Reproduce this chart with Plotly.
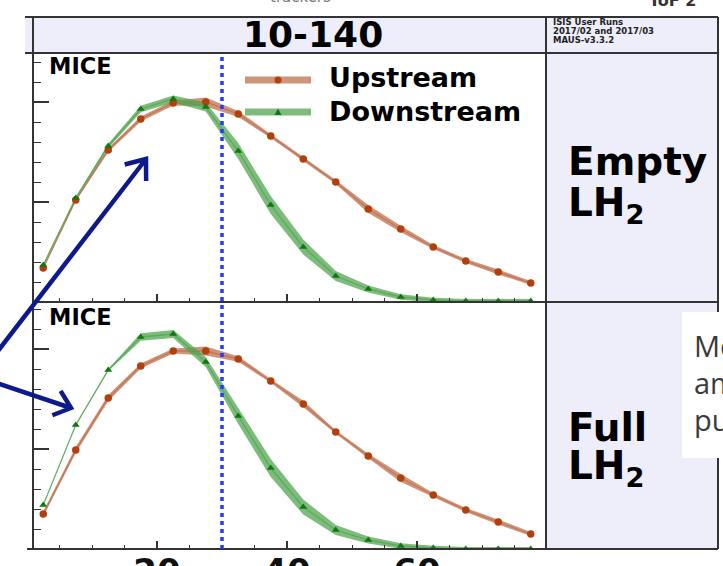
import math
import plotly.graph_objects as go

# ---------------- data ----------------
x_centers = [2.5, 7.5, 12.5, 17.5, 22.5, 27.5, 32.5, 37.5,
             42.5, 47.5, 52.5, 57.5, 62.5, 67.5, 72.5, 77.5]

empty_upstream = [0.034, 0.102, 0.152, 0.183, 0.199, 0.200, 0.188, 0.166,
                  0.143, 0.120, 0.093, 0.073, 0.055, 0.041, 0.030, 0.019]
empty_upstream_err = [0.0010, 0.0012, 0.0020, 0.0025, 0.0025, 0.0045, 0.0030, 0.0020,
                      0.0022, 0.0020, 0.0040, 0.0032, 0.0020, 0.0020, 0.0024, 0.0020]
empty_downstream = [0.037, 0.104, 0.156, 0.193, 0.203, 0.195, 0.151, 0.097,
                    0.055, 0.026, 0.013, 0.005, 0.002, 0.001, 0.001, 0.001]
empty_downstream_err = [0.0010, 0.0012, 0.0022, 0.0032, 0.0035, 0.0045, 0.0080, 0.0090,
                        0.0075, 0.0050, 0.0035, 0.0028, 0.0022, 0.0020, 0.0020, 0.0020]

full_upstream = [0.035, 0.099, 0.151, 0.183, 0.198, 0.198, 0.190, 0.168,
                 0.145, 0.117, 0.093, 0.071, 0.054, 0.039, 0.027, 0.015]
full_upstream_err = [0.0025, 0.0030, 0.0030, 0.0025, 0.0025, 0.0045, 0.0028, 0.0018,
                     0.0032, 0.0018, 0.0022, 0.0040, 0.0020, 0.0020, 0.0026, 0.0020]
full_downstream = [0.044, 0.124, 0.179, 0.212, 0.215, 0.187, 0.133, 0.081,
                   0.042, 0.019, 0.009, 0.003, 0.001, 0.000, 0.000, 0.000]
full_downstream_err = [0.0008, 0.0008, 0.0010, 0.0038, 0.0040, 0.0050, 0.0080, 0.0090,
                       0.0075, 0.0050, 0.0035, 0.0028, 0.0022, 0.0020, 0.0020, 0.0020]

cut_value = 30
x_tick_vals = [20, 40, 60]
x_tick_text = ["20", "40", "60"]
series_names = ["Upstream", "Downstream"]
panel_labels = [["Empty", "LH<sub>2</sub>"], ["Full", "LH<sub>2</sub>"]]
title_text = "10-140"
info_lines = ["ISIS User Runs", "2017/02 and 2017/03", "MAUS-v3.3.2"]
box_lines = ["Me", "am", "pu"]

# ---------------- styling ----------------
W, H = 723, 566
UP_BAND = "rgba(190,110,75,0.74)"
UP_MARK = "#b2400c"
DN_BAND = "rgba(80,165,80,0.74)"
DN_MARK = "#117711"
FRAME = "#333333"
LAV = "#eeeefa"
NAVY = "#0e1a8c"
FAM = "DejaVu Sans, sans-serif"


def PX(x):
    return x / W


def PY(y):
    return 1 - y / H


fig = go.Figure()


def add_band(xs, ys, err, color, xa, ya):
    up = [v + e for v, e in zip(ys, err)]
    lo = [v - e for v, e in zip(ys, err)]
    fig.add_trace(go.Scatter(x=xs + xs[::-1], y=up + lo[::-1], fill="toself",
                             fillcolor=color, line=dict(width=0), mode="lines",
                             hoverinfo="skip", showlegend=False, xaxis=xa, yaxis=ya))
    fig.add_trace(go.Scatter(x=xs, y=ys, mode="lines", line=dict(color=color, width=1.3),
                             showlegend=False, hoverinfo="skip", xaxis=xa, yaxis=ya))


def add_markers(xs, ys, color, symbol, size, xa, ya, name):
    fig.add_trace(go.Scatter(x=xs, y=ys, mode="markers", name=name,
                             marker=dict(color=color, symbol=symbol, size=size, line=dict(width=0)),
                             showlegend=False, xaxis=xa, yaxis=ya))


for xa, ya, up, upe, dn, dne in [("x", "y", empty_upstream, empty_upstream_err,
                                  empty_downstream, empty_downstream_err),
                                 ("x2", "y2", full_upstream, full_upstream_err,
                                  full_downstream, full_downstream_err)]:
    add_band(x_centers, up, upe, UP_BAND, xa, ya)
    add_band(x_centers, dn, dne, DN_BAND, xa, ya)
    add_markers(x_centers, up, UP_MARK, "circle", 7.5, xa, ya, series_names[0])
    add_markers(x_centers, dn, DN_MARK, "triangle-up", 7, xa, ya, series_names[1])

# axes geometry (pixels -> paper)
x_dom = [PX(33), PX(546)]
x_rng = [(33 - 27) / 6.5, (546 - 27) / 6.5]
top_dom = [PY(302), PY(53)]
bot_dom = [PY(549), PY(302)]

common_x = dict(domain=x_dom, range=x_rng, showgrid=False, zeroline=False, showline=False,
                automargin=False,
                ticks="inside", tick0=0, dtick=20, ticklen=8, tickwidth=1.5, tickcolor=FRAME,
                minor=dict(ticks="inside", dtick=5, ticklen=4, tickwidth=1.2, tickcolor=FRAME))
common_y = dict(showgrid=False, zeroline=False, showline=False, showticklabels=False,
                automargin=False,
                ticks="inside", tick0=0, dtick=0.1, ticklen=16, tickwidth=1.5, tickcolor=FRAME,
                minor=dict(ticks="inside", dtick=0.02, ticklen=8, tickwidth=1.2, tickcolor=FRAME))

fig.update_layout(
    xaxis=dict(common_x, anchor="y", showticklabels=False),
    yaxis=dict(common_y, domain=top_dom, range=[0, 0.249], anchor="x"),
    xaxis2=dict(common_x, anchor="y2", showticklabels=True, tickmode="array",
                tickvals=x_tick_vals, ticktext=x_tick_text, ticklabelstandoff=-1,
                tickfont=dict(family=FAM, size=34, color="#111111", weight="bold")),
    yaxis2=dict(common_y, domain=bot_dom, range=[0, 0.247], anchor="x2"),
)

shapes = []
# header and right column fills
shapes.append(dict(type="rect", xref="paper", yref="paper", x0=PX(25), x1=PX(718),
                   y0=PY(53), y1=PY(17), fillcolor=LAV, line=dict(width=0), layer="below"))
shapes.append(dict(type="rect", xref="paper", yref="paper", x0=PX(546), x1=PX(718),
                   y0=PY(549), y1=PY(53), fillcolor=LAV, line=dict(width=0), layer="below"))


def hline(y, x0, x1, w=2):
    shapes.append(dict(type="line", xref="paper", yref="paper", x0=PX(x0), x1=PX(x1),
                       y0=PY(y), y1=PY(y), line=dict(color=FRAME, width=w)))


def vline(x, y0, y1, w=2):
    shapes.append(dict(type="line", xref="paper", yref="paper", x0=PX(x), x1=PX(x),
                       y0=PY(y0), y1=PY(y1), line=dict(color=FRAME, width=w)))


hline(17, 25, 718)
hline(53, 25, 718)
hline(302, 33, 718)
hline(549, 27, 718)
vline(33, 17, 549)
vline(546, 17, 549)
vline(718, 17, 549)

# cut line
shapes.append(dict(type="line", xref="x", yref="paper", x0=cut_value, x1=cut_value,
                   y0=PY(549), y1=PY(53), line=dict(color="#1f3cff", width=3.5, dash="4px,4px")))

# legend symbols
shapes.append(dict(type="rect", xref="paper", yref="paper", x0=PX(245), x1=PX(311),
                   y0=PY(83.5), y1=PY(76.5), fillcolor=UP_BAND, line=dict(width=0)))
shapes.append(dict(type="circle", xref="paper", yref="paper", x0=PX(274.5), x1=PX(281.5),
                   y0=PY(83.5), y1=PY(76.5), fillcolor=UP_MARK, line=dict(width=0)))
shapes.append(dict(type="rect", xref="paper", yref="paper", x0=PX(245), x1=PX(311),
                   y0=PY(115.5), y1=PY(108.5), fillcolor=DN_BAND, line=dict(width=0)))
shapes.append(dict(type="path", xref="paper", yref="paper",
                   path=f"M {PX(274.5)} {PY(115)} L {PX(281.5)} {PY(115)} L {PX(278)} {PY(108.5)} Z",
                   fillcolor=DN_MARK, line=dict(width=0)))


def arrow(x0, y0, x1, y1, L=22, ang=38):
    dx, dy = x1 - x0, y1 - y0
    n = math.hypot(dx, dy)
    bx, by = -dx / n, -dy / n
    pts = []
    for s in (1, -1):
        a = math.radians(ang * s)
        rx = bx * math.cos(a) - by * math.sin(a)
        ry = bx * math.sin(a) + by * math.cos(a)
        pts.append((x1 + L * rx, y1 + L * ry))
    p = (f"M {PX(x0)} {PY(y0)} L {PX(x1)} {PY(y1)} "
         f"M {PX(pts[0][0])} {PY(pts[0][1])} L {PX(x1)} {PY(y1)} L {PX(pts[1][0])} {PY(pts[1][1])}")
    shapes.append(dict(type="path", xref="paper", yref="paper", path=p,
                       line=dict(color=NAVY, width=4.5)))


arrow(-6, 356, 146, 159)
arrow(-6, 382, 71, 408, L=20, ang=40)

# white text box at the right edge
shapes.append(dict(type="rect", xref="paper", yref="paper", x0=PX(682), x1=PX(730),
                   y0=PY(458), y1=PY(312), fillcolor="white", line=dict(width=0)))

annotations = []


def text(t, x, y, size, family=FAM, color="#000000", xanchor="left", weight="bold"):
    annotations.append(dict(text=t, x=PX(x), y=PY(y), xref="paper", yref="paper",
                            xanchor=xanchor, yanchor="middle", showarrow=False,
                            font=dict(family=family, size=size, color=color, weight=weight)))


text(title_text, 313, 34.5, 36, xanchor="center")
for i, ln in enumerate(info_lines):
    text(ln, 551, 22.5 + 9 * i, 8.5, color="#222222")
text("MICE", 47, 66, 22.5)
text("MICE", 47, 317, 22.5)
text(series_names[0], 327, 78, 27)
text(series_names[1], 327, 112, 27)
text(panel_labels[0][0], 566, 161.5, 39)
text(panel_labels[0][1], 566, 205, 39)
text(panel_labels[1][0], 566, 427, 39)
text(panel_labels[1][1], 566, 468, 39)
for i, ln in enumerate(box_lines):
    text(ln, 692, 345 + 37 * i, 29, family="Open Sans, Noto Sans, sans-serif",
         color="#3a3a3a", weight="normal")
text("trackers", 300, -3, 15, color="#777777", xanchor="center", weight="normal")
text("ToF 2", 672, 0, 16, color="#333333", xanchor="center")

fig.update_layout(width=W, height=H, autosize=False,
                  margin=dict(l=0, r=0, t=0, b=0, autoexpand=False),
                  paper_bgcolor="white", plot_bgcolor="rgba(0,0,0,0)",
                  showlegend=False, shapes=shapes, annotations=annotations)

fig.write_html("out.html", config={"displayModeBar": False},
               post_script="document.body.style.margin='0';"
                           "document.body.style.overflow='hidden';"
                           "document.documentElement.style.overflow='hidden';")
